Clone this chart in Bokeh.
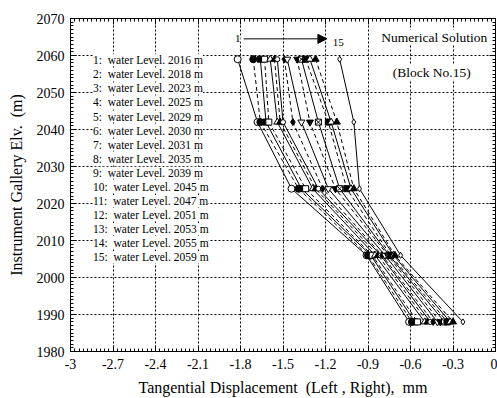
from bokeh.plotting import figure
from bokeh.models import (FixedTicker, LinearAxis, Label, Arrow, NormalHead)
from bokeh.embed import file_html
from bokeh.resources import INLINE

# ---- data ----
elevations = [2059, 2042, 2024, 2006, 1988]
water_levels = [2016, 2018, 2023, 2025, 2029, 2030, 2031, 2035, 2039,
                2045, 2047, 2051, 2053, 2055, 2059]
disp_2059 = [-1.82, -1.71, -1.66, -1.63, -1.59, -1.56, -1.54, -1.49, -1.47,
             -1.40, -1.37, -1.34, -1.31, -1.27, -1.10]
disp_2042 = [-1.68, -1.66, -1.62, -1.60, -1.54, -1.52, -1.50, -1.43, -1.37,
             -1.31, -1.25, -1.18, -1.16, -1.12, -1.00]
disp_2024 = [-1.44, -1.39, -1.37, -1.34, -1.29, -1.27, -1.25, -1.22, -1.18,
             -1.13, -1.10, -1.05, -1.02, -1.00, -0.96]
disp_2006 = [-0.91, -0.90, -0.88, -0.87, -0.85, -0.83, -0.81, -0.80, -0.78,
             -0.76, -0.75, -0.74, -0.72, -0.71, -0.67]
disp_1988 = [-0.61, -0.59, -0.57, -0.55, -0.50, -0.48, -0.46, -0.44, -0.41,
             -0.39, -0.36, -0.34, -0.32, -0.30, -0.23]
x_ticks = [-3.0, -2.7, -2.4, -2.1, -1.8, -1.5, -1.2, -0.9, -0.6, -0.3, 0.0]
x_tick_labels = ["-3", "-2.7", "-2.4", "-2.1", "-1.8", "-1.5", "-1.2",
                 "-0.9", "-0.6", "-0.3", "0"]
y_ticks = [1980, 1990, 2000, 2010, 2020, 2030, 2040, 2050, 2060, 2070]

FONT = "Liberation Serif"
NB = "\u00a0"

p = figure(width=497, height=398, x_range=(-3, 0), y_range=(1980, 2070),
           output_backend="svg", toolbar_location=None,
           min_border_left=70, min_border_right=2, min_border_top=18,
           min_border_bottom=46, background_fill_color="white",
           border_fill_color="white")
p.outline_line_color = "black"
p.outline_line_width = 1

def style_axis(ax, labels=True):
    ax.axis_line_color = "black"
    ax.major_tick_in = 6
    ax.major_tick_out = 0
    ax.minor_tick_in = 3
    ax.minor_tick_out = 0
    ax.major_tick_line_color = "black"
    ax.minor_tick_line_color = "black"
    ax.major_label_text_font = FONT
    ax.major_label_text_color = "black"
    ax.axis_label_text_font = FONT
    ax.axis_label_text_font_style = "normal"
    ax.axis_label_text_color = "black"
    if labels:
        ax.major_label_text_font_size = "14px"
        ax.axis_label_text_font_size = "16px"
    else:
        ax.major_label_text_font_size = "0px"
        ax.major_label_text_color = None
        ax.major_label_standoff = 0

xt = FixedTicker(ticks=x_ticks, minor_ticks=[round(-3 + 0.03 * i, 2) for i in range(101)])
yt = FixedTicker(ticks=y_ticks, minor_ticks=list(range(1980, 2071)))

p.xaxis.ticker = xt
p.yaxis.ticker = yt
p.xaxis.major_label_overrides = {t: l for t, l in zip(x_ticks, x_tick_labels)}
p.xaxis.axis_label = f"Tangential Displacement {NB}(Left , Right), {NB}mm"
p.yaxis.axis_label = f"Instrument Gallery Elv. {NB}(m)"
style_axis(p.xaxis[0])
style_axis(p.yaxis[0])
p.xaxis.major_label_standoff = 7
p.xaxis.axis_label_standoff = 7
p.yaxis.major_label_standoff = 6
p.yaxis.axis_label_standoff = 9

top = LinearAxis(ticker=FixedTicker(ticks=x_ticks, minor_ticks=xt.minor_ticks))
style_axis(top, labels=False)
p.add_layout(top, "above")
right = LinearAxis(ticker=FixedTicker(ticks=y_ticks, minor_ticks=yt.minor_ticks))
style_axis(right, labels=False)
p.add_layout(right, "right")

p.grid.grid_line_color = "black"
p.grid.grid_line_dash = "2 2"
p.grid.grid_line_width = 1
p.xgrid.ticker = FixedTicker(ticks=x_ticks)
p.ygrid.ticker = FixedTicker(ticks=y_ticks)

markers = ["circle", "circle", "square", "square", "triangle", "triangle",
           "circle", "diamond", "inverted_triangle", "inverted_triangle",
           "square_x", "square", "triangle", "triangle", "diamond"]
filled = [False, True, True, False, False, True, False, True, False, True,
          False, True, False, True, False]
sizes = [7, 7, 6, 6, 7, 7, 5, 7, 7, 7, 6, 6, 7, 7, 6]

columns = [disp_2059, disp_2042, disp_2024, disp_2006, disp_1988]
for i in range(len(water_levels)):
    xs = [col[i] for col in columns]
    dash = "solid" if i % 2 == 0 else "4 3"
    p.line(xs, elevations, line_color="black", line_width=1, line_dash=dash)
for i in range(len(water_levels)):
    xs = [col[i] for col in columns]
    p.scatter(xs, elevations, marker=markers[i], size=sizes[i],
              line_color="black", line_width=1,
              fill_color="black" if filled[i] else "white")

def add_text(x, y, text, size, align="left"):
    p.add_layout(Label(x=x, y=y, text=text, text_font=FONT,
                       text_font_size=size, text_color="black",
                       text_baseline="middle", text_align=align,
                       background_fill_color="white"))

# legend text
for i, wl in enumerate(water_levels):
    add_text(-2.841, 2058.7 - 3.8 * i, f"{i + 1}: {NB}water Level. {wl} m", "11.5px")

# arrow 1 -> 15
p.add_layout(Arrow(end=NormalHead(size=9, fill_color="black", line_color="black"),
                   x_start=-1.778, y_start=2064.5, x_end=-1.19, y_end=2064.5,
                   line_color="black", line_width=1))
add_text(-1.80, 2064.5, "1", "11px", "right")
add_text(-1.11, 2063.6, "15", "11px", "center")

add_text(-0.432, 2065.0, "Numerical Solution", "13.5px", "center")
add_text(-0.45, 2055.5, "(Block No.15)", "13.5px", "center")

open("out.html", "w").write(file_html(p, INLINE))
